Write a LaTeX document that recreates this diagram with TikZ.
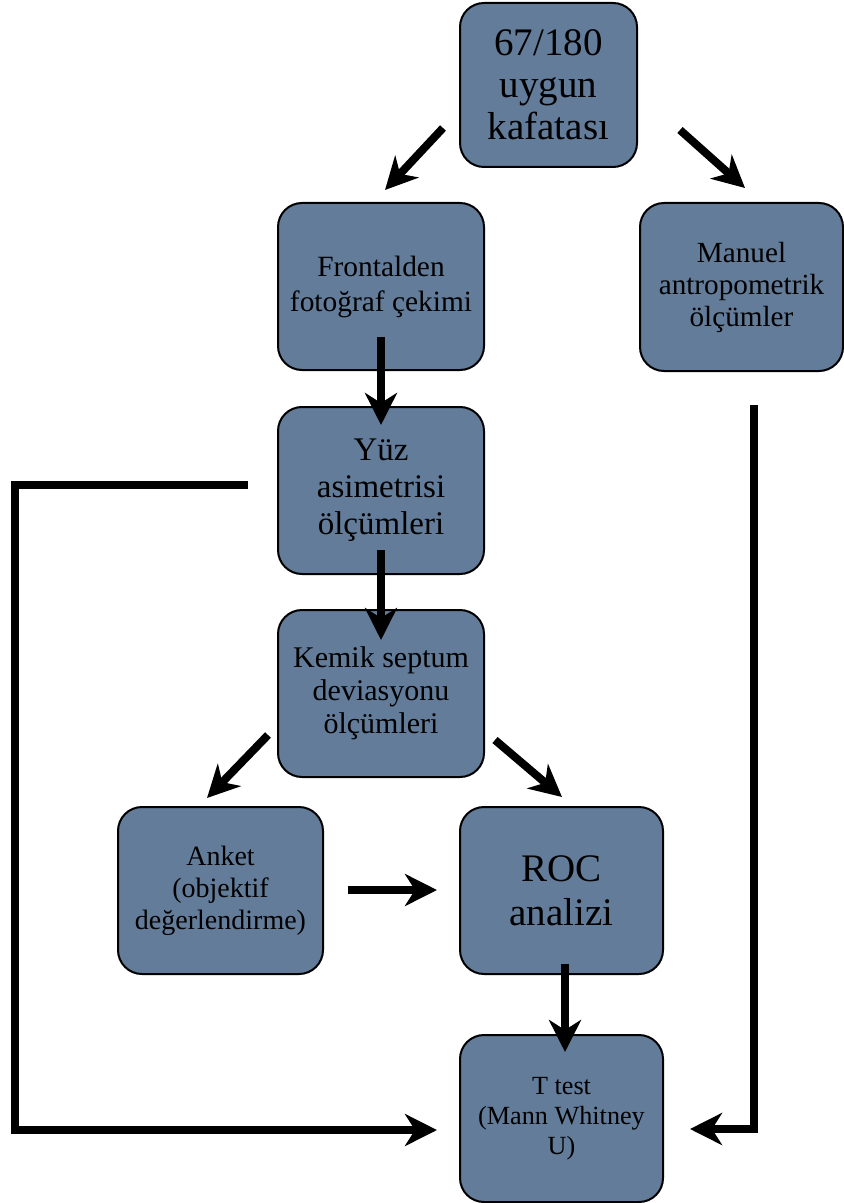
\documentclass[tikz,border=0pt]{standalone}
\usepackage{fontspec}
\setmainfont{Liberation Serif}
\usetikzlibrary{arrows.meta,positioning}
\definecolor{boxblue}{RGB}{98,124,154}

\begin{document}
\begin{tikzpicture}[x=0.5pt,y=-0.5pt,->,>={Stealth[length=16pt,width=16pt,inset=5pt]},line width=4pt]
  \tikzstyle{box}=[draw=black,line width=1pt,fill=boxblue,rounded corners=12pt,align=center,inner sep=0pt,minimum width=103pt,minimum height=83.5pt]
  \useasboundingbox (0,0) rectangle (844,1203);

  \node[box,minimum width=88.5pt,minimum height=82pt,font=\fontsize{19.5}{21}\selectfont] (skull) at (548.5,85) {67/180\\uygun\\kafatası};
  \node[box,font=\fontsize{14.7}{17.5}\selectfont] (frontal) at (381,286.5) {Frontalden\\fotoğraf çekimi};
  \node[box,minimum width=101.5pt,minimum height=84pt,font=\fontsize{14.6}{16}\selectfont] (manuel) at (741.5,287) {Manuel\\antropometrik\\ölçümler};
  \node[box,font=\fontsize{16.5}{18.5}\selectfont] (yuz) [below=17.5pt of frontal] {Yüz\\asimetrisi\\ölçümleri};
  \node[box,font=\fontsize{15}{16.5}\selectfont] (kemik) [below=17pt of yuz] {Kemik septum\\deviasyonu\\ölçümleri};
  \node[box,minimum width=101.5pt,font=\fontsize{19.5}{22}\selectfont] (roc) at (561.5,890.5) {ROC\\analizi};
  \node[box,minimum width=102.5pt,font=\fontsize{14}{16}\selectfont] (anket) [left=67.5pt of roc] {Anket\\(objektif\\değerlendirme)};
  \node[box,minimum width=101.5pt,font=\fontsize{13.1}{15}\selectfont] (ttest) [below=29.5pt of roc] {T test\\(Mann Whitney\\U)};

  % arrow ends
  \coordinate (skullL) at (443,128);   \coordinate (frontalT) at (385,190);
  \coordinate (skullR) at (680,130);   \coordinate (manuelT) at (745,188);
  \coordinate (frontalB) at (381,337); \coordinate (yuzT) at (381,425);
  \coordinate (yuzB) at (381,550);     \coordinate (kemikT) at (381,640);
  \coordinate (kemikL) at (268,735);   \coordinate (anketT) at (207,798);
  \coordinate (kemikR) at (495,740);   \coordinate (rocT) at (562,797);
  \coordinate (anketR) at (348,890);   \coordinate (rocL) at (437,890);
  \coordinate (rocB) at (565,964);     \coordinate (ttestT) at (565,1052);
  \coordinate (yuzL) at (248,485);     \coordinate (ttestL) at (437,1130);
  \coordinate (manuelB) at (754,405);  \coordinate (ttestR) at (690,1129);

  \draw (skullL) -- (frontalT);
  \draw (skullR) -- (manuelT);
  \draw (frontalB) -- (yuzT);
  \draw (yuzB) -- (kemikT);
  \draw (kemikL) -- (anketT);
  \draw (kemikR) -- (rocT);
  \draw (anketR) -- (rocL);
  \draw (rocB) -- (ttestT);
  \draw (yuzL) -- (15,485) |- (ttestL);
  \draw (manuelB) |- (ttestR);
\end{tikzpicture}
\end{document}
